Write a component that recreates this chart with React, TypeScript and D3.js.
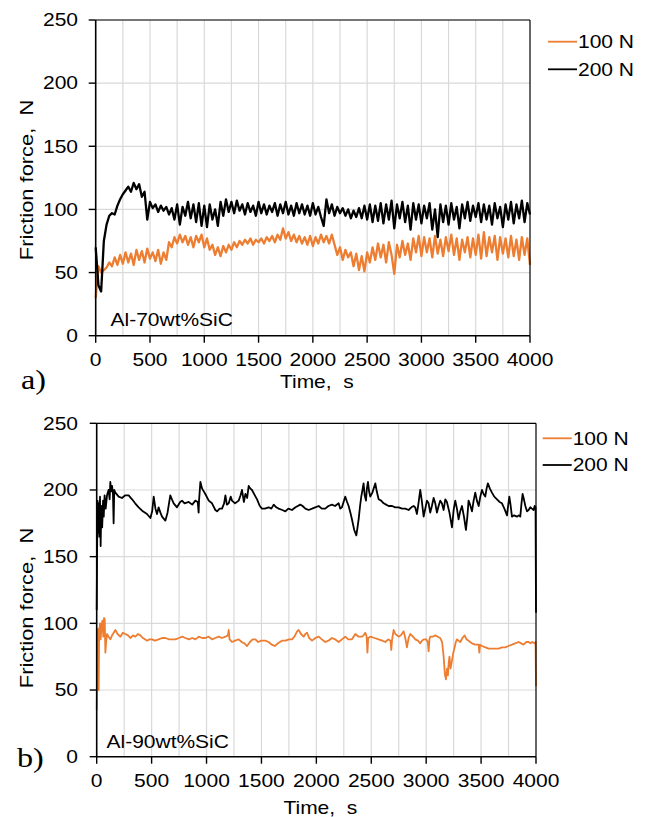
import React, { useEffect, useRef } from 'react';
import * as d3 from 'd3';

const ORANGE = '#ed7d31';
const FONT = '"Liberation Sans", Arial, sans-serif';
const SERIF = '"Liberation Serif", "Times New Roman", serif';
const SX = 1.2; // the source figure is stretched sideways

const seriesNames = ['100 N', '200 N'];
const xTicks = [0, 500, 1000, 1500, 2000, 2500, 3000, 3500, 4000];
const yTicks = [0, 50, 100, 150, 200, 250];
const xGrid = [250, 500, 750, 1000, 1250, 1500, 1750, 2000, 2250, 2500, 2750, 3000, 3250, 3500, 3750];

// panel a) Al-70wt%SiC, one reading every 25 s (0..4000 s)
const TIME_STEP = 25;
const a100N = [
  30, 55, 50, 52, 54, 58, 55, 62, 56, 64, 57, 66, 58, 65, 56, 68, 60, 67, 58, 69,
  61, 66, 59, 68, 57, 66, 60, 74, 70, 78, 73, 80, 74, 79, 72, 78, 70, 79, 74, 80,
  70, 77, 68, 72, 64, 70, 63, 71, 66, 72, 68, 74, 70, 75, 72, 76, 73, 77, 72, 76,
  74, 77, 73, 78, 75, 79, 74, 80, 76, 85, 77, 82, 75, 80, 74, 79, 73, 78, 72, 79,
  71, 78, 73, 80, 74, 79, 73, 80, 72, 64, 70, 60, 68, 62, 66, 55, 65, 52, 63, 51,
  66, 58, 70, 60, 73, 62, 72, 58, 74, 64, 49, 72, 62, 75, 64, 73, 60, 77, 66, 79,
  63, 78, 66, 77, 62, 79, 65, 76, 63, 78, 67, 80, 64, 77, 60, 76, 66, 78, 62, 77,
  64, 80, 61, 82, 63, 78, 66, 79, 60, 78, 65, 77, 62, 79, 63, 76, 60, 78, 64, 77,
  56,
];
const a200N = [
  70, 40, 35, 75, 88, 95, 97, 96, 103, 108, 112, 115, 118, 114, 121, 116, 120, 110, 114, 92,
  106, 101, 104, 98, 103, 99, 102, 96, 101, 92, 104, 88, 102, 95, 106, 93, 104, 90, 105, 87,
  103, 86, 104, 92, 100, 87, 106, 95, 108, 98, 106, 97, 107, 99, 104, 96, 105, 98, 103, 95,
  106, 97, 104, 96, 103, 98, 105, 95, 104, 97, 106, 96, 103, 95, 105, 97, 104, 96, 103, 95,
  105, 96, 102, 94, 87, 108, 97, 104, 95, 102, 97, 101, 95, 100, 93, 99, 94, 101, 93, 103,
  92, 104, 90, 103, 91, 105, 89, 104, 92, 107, 85, 104, 93, 106, 90, 103, 84, 105, 92, 104,
  89, 103, 93, 105, 84, 100, 78, 104, 90, 103, 88, 105, 92, 102, 85, 104, 93, 106, 91, 103,
  94, 105, 90, 104, 92, 103, 88, 105, 93, 102, 86, 104, 92, 106, 89, 104, 93, 107, 90, 105,
  96,
];

// panel b) Al-90wt%SiC, [time s, force N]
const b100N: [number, number][] = [
  [0, 35], [3, 60], [6, 95], [10, 85], [14, 96], [18, 50], [22, 90], [30, 100], [36, 88], [44, 98],
  [52, 102], [60, 90], [67, 104], [73, 103], [79, 78], [86, 86], [94, 92], [108, 90], [124, 88], [140, 91],
  [155, 93], [170, 95], [190, 92], [215, 90], [238, 93], [261, 92], [285, 91], [307, 89], [330, 91], [352, 90],
  [375, 92], [398, 91], [420, 89], [440, 88], [458, 87], [480, 88], [504, 88], [530, 87], [564, 88], [595, 89],
  [625, 89], [660, 88], [690, 88], [716, 88], [750, 89], [780, 90], [807, 89], [840, 88], [870, 89], [898, 88],
  [930, 90], [960, 89], [989, 89], [1020, 90], [1050, 88], [1080, 89], [1110, 90], [1140, 89], [1172, 90], [1195, 91],
  [1202, 95], [1210, 88], [1232, 86], [1260, 87], [1293, 88], [1320, 86], [1345, 85], [1369, 83], [1395, 86], [1420, 88],
  [1445, 88], [1470, 86], [1500, 87], [1536, 87], [1565, 86], [1595, 84], [1621, 83], [1650, 85], [1687, 87], [1720, 87],
  [1750, 88], [1778, 88], [1800, 90], [1825, 94], [1839, 95], [1860, 92], [1885, 90], [1900, 92], [1915, 93], [1935, 89],
  [1961, 87], [1990, 89], [2021, 90], [2050, 88], [2081, 86], [2110, 87], [2142, 89], [2170, 88], [2203, 86], [2233, 88],
  [2263, 90], [2290, 88], [2324, 88], [2355, 92], [2385, 90], [2415, 90], [2430, 91], [2446, 93], [2458, 90], [2465, 78],
  [2472, 89], [2491, 90], [2530, 89], [2567, 88], [2600, 87], [2628, 86], [2655, 88], [2675, 87], [2682, 80], [2690, 88],
  [2704, 95], [2720, 92], [2749, 90], [2770, 91], [2795, 94], [2810, 89], [2825, 82], [2840, 89], [2855, 92], [2880, 90],
  [2901, 88], [2925, 87], [2946, 85], [2962, 87], [2977, 88], [3000, 88], [3015, 86], [3022, 79], [3030, 88], [3037, 90],
  [3060, 90], [3083, 91], [3105, 90], [3128, 89], [3145, 86], [3159, 75], [3170, 62], [3180, 58], [3190, 66], [3198, 61],
  [3205, 70], [3212, 75], [3222, 66], [3235, 72], [3247, 78], [3259, 82], [3270, 86], [3280, 88], [3295, 87], [3311, 86],
  [3330, 89], [3350, 91], [3368, 88], [3386, 87], [3400, 86], [3417, 85], [3445, 84], [3478, 84], [3484, 78], [3490, 84],
  [3508, 83], [3540, 82], [3569, 81], [3600, 81], [3630, 81], [3660, 81], [3690, 82], [3720, 82], [3750, 83], [3781, 84],
  [3810, 85], [3842, 86], [3865, 85], [3887, 84], [3910, 86], [3933, 86], [3950, 85], [3965, 86], [3988, 85], [3996, 86],
  [4000, 53],
];
const b200N: [number, number][] = [
  [0, 110], [3, 150], [8, 192], [14, 168], [18, 190], [24, 165], [30, 195], [36, 158], [42, 188], [50, 172],
  [58, 192], [64, 180], [72, 196], [82, 186], [94, 196], [108, 200], [118, 193], [124, 206], [132, 199], [140, 203],
  [148, 197], [154, 175], [160, 200], [170, 198], [200, 195], [230, 194], [260, 196], [291, 196], [322, 193], [350, 190],
  [382, 187], [420, 184], [458, 182], [489, 179], [505, 184], [519, 195], [535, 186], [549, 182], [564, 187], [580, 183],
  [595, 180], [625, 177], [645, 183], [670, 196], [685, 193], [701, 190], [731, 187], [760, 191], [777, 192], [800, 190],
  [838, 191], [870, 189], [898, 192], [920, 191], [928, 183], [932, 192], [944, 206], [960, 201], [989, 197], [1020, 192],
  [1050, 190], [1080, 185], [1096, 184], [1120, 186], [1141, 186], [1160, 190], [1172, 196], [1185, 189], [1202, 190], [1220, 195],
  [1232, 192], [1260, 190], [1293, 192], [1310, 196], [1323, 200], [1340, 191], [1354, 197], [1370, 194], [1384, 203], [1400, 201],
  [1414, 200], [1440, 196], [1460, 193], [1485, 188], [1505, 186], [1530, 186], [1566, 187], [1590, 186], [1612, 189], [1635, 187],
  [1657, 186], [1690, 185], [1718, 184], [1745, 186], [1778, 185], [1810, 187], [1854, 189], [1875, 188], [1900, 186], [1930, 185],
  [1961, 186], [1990, 187], [2021, 188], [2050, 186], [2081, 186], [2110, 188], [2142, 189], [2170, 188], [2203, 190], [2218, 186],
  [2233, 187], [2248, 191], [2263, 195], [2280, 191], [2294, 188], [2310, 183], [2324, 178], [2345, 170], [2364, 166], [2375, 172],
  [2385, 178], [2398, 188], [2409, 195], [2420, 200], [2430, 205], [2440, 196], [2452, 192], [2460, 201], [2470, 206], [2480, 199],
  [2491, 195], [2510, 198], [2537, 205], [2550, 199], [2567, 193], [2590, 192], [2613, 190], [2635, 189], [2658, 188], [2690, 188],
  [2719, 187], [2750, 187], [2780, 186], [2810, 186], [2840, 185], [2865, 187], [2886, 188], [2900, 187], [2916, 182], [2930, 190],
  [2946, 200], [2960, 192], [2977, 180], [2992, 186], [3007, 192], [3022, 190], [3037, 183], [3052, 188], [3068, 194], [3083, 190],
  [3098, 183], [3113, 188], [3128, 192], [3143, 190], [3159, 185], [3174, 193], [3189, 191], [3212, 183], [3235, 172], [3250, 185],
  [3265, 192], [3280, 186], [3295, 178], [3310, 184], [3326, 188], [3344, 180], [3362, 170], [3375, 180], [3386, 192], [3400, 189],
  [3417, 184], [3432, 192], [3447, 198], [3462, 192], [3478, 188], [3493, 195], [3508, 200], [3523, 197], [3538, 195], [3550, 201],
  [3562, 205], [3580, 201], [3599, 198], [3620, 195], [3645, 193], [3668, 191], [3690, 190], [3712, 186], [3736, 181], [3746, 188],
  [3757, 195], [3768, 189], [3781, 180], [3800, 181], [3827, 180], [3845, 181], [3857, 180], [3868, 190], [3878, 197], [3890, 193],
  [3903, 188], [3918, 184], [3933, 185], [3948, 187], [3963, 186], [3978, 185], [3988, 188], [3996, 187], [4000, 108],
];

const toPairs = (vals: number[]): [number, number][] => vals.map((v, i) => [i * TIME_STEP, v]);

const panels = [
  {
    box: { left: 95.7, right: 530, top: 20, bottom: 335.7 },
    series: [toPairs(a100N), toPairs(a200N)],
    traceWidth: 2.3,
    material: 'Al-70wt%SiC', matPos: [110.5, 326],
    letter: 'a)', letterPos: [21, 389],
    legend: { x: 548, y: 41.7, gap: 27.6 },
    yLabelY: 180, timeY: 388,
  },
  {
    box: { left: 96.7, right: 536, top: 423.3, bottom: 756.7 },
    series: [b100N, b200N],
    traceWidth: 1.8,
    material: 'Al-90wt%SiC', matPos: [106.5, 748],
    letter: 'b)', letterPos: [17, 767],
    legend: { x: 542.7, y: 438.3, gap: 26.7 },
    yLabelY: 608, timeY: 814,
  },
];

const colors = [ORANGE, '#000'];

function label(g, x, y, txt, opts: any = {}) {
  const { size = 17.5, anchor = 'start', rotate = false, family = FONT, sx = SX, dy = null } = opts;
  const t = g.append('text')
    .attr('transform', `translate(${x},${y})${rotate ? ' rotate(-90)' : ''} scale(${sx},1)`)
    .attr('text-anchor', anchor)
    .attr('font-family', family)
    .attr('font-size', size)
    .attr('fill', '#000')
    .style('white-space', 'pre')
    .text(txt);
  if (dy) t.attr('dy', dy);
  return t;
}

const App = () => {
  const ref = useRef(null);

  useEffect(() => {
    const svg = d3.select(ref.current);
    svg.selectAll('*').remove();

    panels.forEach((p) => {
      const { left, right, top, bottom } = p.box;
      const x = d3.scaleLinear().domain([0, 4000]).range([left, right]);
      const y = d3.scaleLinear().domain([0, 250]).range([bottom, top]);
      const g = svg.append('g');

      // grid
      g.selectAll('.vg').data(xGrid).enter().append('line')
        .attr('x1', (d) => x(d)).attr('x2', (d) => x(d))
        .attr('y1', top).attr('y2', bottom)
        .attr('stroke', '#d9d9d9').attr('stroke-width', 1.2);
      g.selectAll('.hg').data(yTicks.slice(1)).enter().append('line')
        .attr('x1', left).attr('x2', right)
        .attr('y1', (d) => y(d)).attr('y2', (d) => y(d))
        .attr('stroke', '#d9d9d9').attr('stroke-width', 1.2);

      // traces
      const line = d3.line().x((d) => x(d[0])).y((d) => y(d[1]));
      p.series.forEach((s, i) => {
        g.append('path').attr('d', line(s))
          .attr('fill', 'none').attr('stroke', colors[i])
          .attr('stroke-width', p.traceWidth).attr('stroke-linejoin', 'round');
      });

      // frame and axes
      g.append('line').attr('x1', left).attr('x2', right).attr('y1', top).attr('y2', top)
        .attr('stroke', '#000').attr('stroke-width', 1.2);
      g.append('line').attr('x1', right).attr('x2', right).attr('y1', top).attr('y2', bottom)
        .attr('stroke', '#000').attr('stroke-width', 1.2);
      g.append('line').attr('x1', left).attr('x2', left).attr('y1', top).attr('y2', bottom)
        .attr('stroke', '#000').attr('stroke-width', 1.6);
      g.append('line').attr('x1', left).attr('x2', right).attr('y1', bottom).attr('y2', bottom)
        .attr('stroke', '#000').attr('stroke-width', 1.6);

      yTicks.forEach((t) => {
        g.append('line').attr('x1', left - 7).attr('x2', left).attr('y1', y(t)).attr('y2', y(t))
          .attr('stroke', '#000').attr('stroke-width', 1.4);
        label(g, 78, y(t), String(t), { anchor: 'end', dy: '0.36em' });
      });
      xTicks.forEach((t) => {
        g.append('line').attr('x1', x(t)).attr('x2', x(t)).attr('y1', bottom).attr('y2', bottom + 7)
          .attr('stroke', '#000').attr('stroke-width', 1.4);
        label(g, x(t), bottom + 30, String(t), { anchor: 'middle' });
      });

      label(g, (left + right) / 2 + 4, p.timeY, 'Time,  s', { anchor: 'middle' });
      label(g, 33, p.yLabelY, 'Friction force,  N', { anchor: 'middle', rotate: true, sx: 1.25 });
      label(g, p.matPos[0], p.matPos[1], p.material, {});
      label(g, p.letterPos[0], p.letterPos[1], p.letter, { family: SERIF, size: 28, sx: 1.15 });

      // legend
      seriesNames.forEach((name, i) => {
        const ly = p.legend.y + i * p.legend.gap;
        g.append('line').attr('x1', p.legend.x).attr('x2', p.legend.x + 29)
          .attr('y1', ly).attr('y2', ly)
          .attr('stroke', colors[i]).attr('stroke-width', 1.8);
        label(g, p.legend.x + 30, ly, name, { dy: '0.36em' });
      });
    });
  }, []);

  return (
    <svg ref={ref} width={648} height={817}
      style={{ position: 'absolute', left: 0, top: 0, background: '#fff' }} />
  );
};

export default App;
